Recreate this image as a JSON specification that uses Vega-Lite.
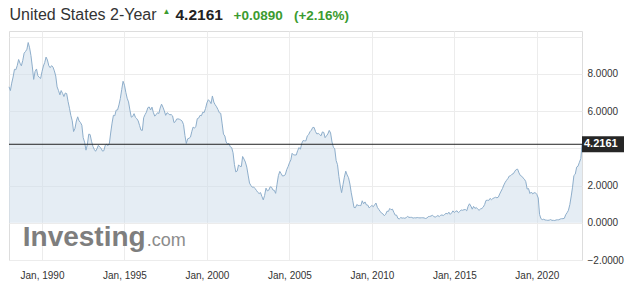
{
"$schema": "https://vega.github.io/schema/vega-lite/v6.json",
"width": 573, "height": 229,
"autosize": {"type": "none"},
"padding": {"left": 9, "top": 31, "right": 54, "bottom": 33},
"background": "white",
"config": {"view": {"stroke": "#dddddd"}, "font": "Liberation Sans", "axis": {"labelOverlap": false}},
"datasets": {
"last": [{"date": "2022-09-27", "yield": 4.2161}],
"logo": [{"word": "Investing", "suffix": ".com"}],
"series": [
{"date":"1988-01-01","yield":7.30},{"date":"1988-02-01","yield":7.10},{"date":"1988-03-01","yield":7.50},{"date":"1988-04-01","yield":7.83},{"date":"1988-05-01","yield":8.24},{"date":"1988-06-01","yield":8.22},{"date":"1988-07-01","yield":8.44},{"date":"1988-08-01","yield":8.77},{"date":"1988-09-01","yield":8.57},{"date":"1988-10-01","yield":8.43},{"date":"1988-11-01","yield":8.72},{"date":"1988-12-01","yield":9.11},
{"date":"1989-01-01","yield":9.20},{"date":"1989-02-01","yield":9.32},{"date":"1989-03-01","yield":9.68},{"date":"1989-04-01","yield":9.40},{"date":"1989-05-01","yield":8.98},{"date":"1989-06-01","yield":8.37},{"date":"1989-07-01","yield":7.70},{"date":"1989-08-01","yield":8.13},{"date":"1989-09-01","yield":8.26},{"date":"1989-10-01","yield":7.90},{"date":"1989-11-01","yield":7.81},{"date":"1989-12-01","yield":7.75},
{"date":"1990-01-01","yield":8.12},{"date":"1990-02-01","yield":8.42},{"date":"1990-03-01","yield":8.60},{"date":"1990-04-01","yield":8.90},{"date":"1990-05-01","yield":8.74},{"date":"1990-06-01","yield":8.43},{"date":"1990-07-01","yield":8.33},{"date":"1990-08-01","yield":8.44},{"date":"1990-09-01","yield":8.36},{"date":"1990-10-01","yield":8.16},{"date":"1990-11-01","yield":7.88},{"date":"1990-12-01","yield":7.30},
{"date":"1991-01-01","yield":7.10},{"date":"1991-02-01","yield":6.87},{"date":"1991-03-01","yield":7.10},{"date":"1991-04-01","yield":6.95},{"date":"1991-05-01","yield":6.78},{"date":"1991-06-01","yield":6.97},{"date":"1991-07-01","yield":6.94},{"date":"1991-08-01","yield":6.51},{"date":"1991-09-01","yield":6.15},{"date":"1991-10-01","yield":5.77},{"date":"1991-11-01","yield":5.48},{"date":"1991-12-01","yield":4.90},
{"date":"1992-01-01","yield":5.07},{"date":"1992-02-01","yield":5.47},{"date":"1992-03-01","yield":5.69},{"date":"1992-04-01","yield":5.47},{"date":"1992-05-01","yield":5.39},{"date":"1992-06-01","yield":5.24},{"date":"1992-07-01","yield":4.57},{"date":"1992-08-01","yield":4.33},{"date":"1992-09-01","yield":3.90},{"date":"1992-10-01","yield":4.20},{"date":"1992-11-01","yield":4.76},{"date":"1992-12-01","yield":4.74},
{"date":"1993-01-01","yield":4.38},{"date":"1993-02-01","yield":4.10},{"date":"1993-03-01","yield":3.95},{"date":"1993-04-01","yield":3.84},{"date":"1993-05-01","yield":3.97},{"date":"1993-06-01","yield":4.16},{"date":"1993-07-01","yield":4.07},{"date":"1993-08-01","yield":4.00},{"date":"1993-09-01","yield":3.85},{"date":"1993-10-01","yield":3.87},{"date":"1993-11-01","yield":4.16},{"date":"1993-12-01","yield":4.21},
{"date":"1994-01-01","yield":4.14},{"date":"1994-02-01","yield":4.27},{"date":"1994-03-01","yield":4.82},{"date":"1994-04-01","yield":5.35},{"date":"1994-05-01","yield":5.77},{"date":"1994-06-01","yield":5.75},{"date":"1994-07-01","yield":6.05},{"date":"1994-08-01","yield":6.06},{"date":"1994-09-01","yield":6.33},{"date":"1994-10-01","yield":6.67},{"date":"1994-11-01","yield":7.16},{"date":"1994-12-01","yield":7.60},
{"date":"1995-01-01","yield":7.39},{"date":"1995-02-01","yield":6.99},{"date":"1995-03-01","yield":6.69},{"date":"1995-04-01","yield":6.49},{"date":"1995-05-01","yield":6.06},{"date":"1995-06-01","yield":5.67},{"date":"1995-07-01","yield":5.71},{"date":"1995-08-01","yield":5.86},{"date":"1995-09-01","yield":5.66},{"date":"1995-10-01","yield":5.59},{"date":"1995-11-01","yield":5.47},{"date":"1995-12-01","yield":5.23},
{"date":"1996-01-01","yield":4.98},{"date":"1996-02-01","yield":4.96},{"date":"1996-03-01","yield":5.64},{"date":"1996-04-01","yield":5.81},{"date":"1996-05-01","yield":5.94},{"date":"1996-06-01","yield":6.18},{"date":"1996-07-01","yield":6.22},{"date":"1996-08-01","yield":6.06},{"date":"1996-09-01","yield":6.21},{"date":"1996-10-01","yield":5.93},{"date":"1996-11-01","yield":5.73},{"date":"1996-12-01","yield":5.80},
{"date":"1997-01-01","yield":5.91},{"date":"1997-02-01","yield":5.87},{"date":"1997-03-01","yield":6.16},{"date":"1997-04-01","yield":6.37},{"date":"1997-05-01","yield":6.21},{"date":"1997-06-01","yield":6.01},{"date":"1997-07-01","yield":5.77},{"date":"1997-08-01","yield":5.91},{"date":"1997-09-01","yield":5.86},{"date":"1997-10-01","yield":5.80},{"date":"1997-11-01","yield":5.81},{"date":"1997-12-01","yield":5.74},
{"date":"1998-01-01","yield":5.38},{"date":"1998-02-01","yield":5.43},{"date":"1998-03-01","yield":5.57},{"date":"1998-04-01","yield":5.58},{"date":"1998-05-01","yield":5.56},{"date":"1998-06-01","yield":5.52},{"date":"1998-07-01","yield":5.46},{"date":"1998-08-01","yield":5.27},{"date":"1998-09-01","yield":4.68},{"date":"1998-10-01","yield":4.26},{"date":"1998-11-01","yield":4.51},{"date":"1998-12-01","yield":4.54},
{"date":"1999-01-01","yield":4.60},{"date":"1999-02-01","yield":4.91},{"date":"1999-03-01","yield":5.14},{"date":"1999-04-01","yield":5.08},{"date":"1999-05-01","yield":5.18},{"date":"1999-06-01","yield":5.59},{"date":"1999-07-01","yield":5.62},{"date":"1999-08-01","yield":5.77},{"date":"1999-09-01","yield":5.75},{"date":"1999-10-01","yield":5.94},{"date":"1999-11-01","yield":5.92},{"date":"1999-12-01","yield":6.14},
{"date":"2000-01-01","yield":6.44},{"date":"2000-02-01","yield":6.61},{"date":"2000-03-01","yield":6.53},{"date":"2000-04-01","yield":6.40},{"date":"2000-05-01","yield":6.81},{"date":"2000-06-01","yield":6.48},{"date":"2000-07-01","yield":6.34},{"date":"2000-08-01","yield":6.23},{"date":"2000-09-01","yield":6.08},{"date":"2000-10-01","yield":5.91},{"date":"2000-11-01","yield":5.88},{"date":"2000-12-01","yield":5.35},
{"date":"2001-01-01","yield":4.76},{"date":"2001-02-01","yield":4.66},{"date":"2001-03-01","yield":4.34},{"date":"2001-04-01","yield":4.23},{"date":"2001-05-01","yield":4.26},{"date":"2001-06-01","yield":4.08},{"date":"2001-07-01","yield":4.04},{"date":"2001-08-01","yield":3.76},{"date":"2001-09-01","yield":3.12},{"date":"2001-10-01","yield":2.73},{"date":"2001-11-01","yield":2.78},{"date":"2001-12-01","yield":3.11},
{"date":"2002-01-01","yield":3.03},{"date":"2002-02-01","yield":3.02},{"date":"2002-03-01","yield":3.56},{"date":"2002-04-01","yield":3.42},{"date":"2002-05-01","yield":3.26},{"date":"2002-06-01","yield":2.99},{"date":"2002-07-01","yield":2.56},{"date":"2002-08-01","yield":2.13},{"date":"2002-09-01","yield":2.00},{"date":"2002-10-01","yield":1.91},{"date":"2002-11-01","yield":1.92},{"date":"2002-12-01","yield":1.84},
{"date":"2003-01-01","yield":1.74},{"date":"2003-02-01","yield":1.63},{"date":"2003-03-01","yield":1.57},{"date":"2003-04-01","yield":1.62},{"date":"2003-05-01","yield":1.42},{"date":"2003-06-01","yield":1.23},{"date":"2003-07-01","yield":1.47},{"date":"2003-08-01","yield":1.86},{"date":"2003-09-01","yield":1.71},{"date":"2003-10-01","yield":1.75},{"date":"2003-11-01","yield":1.93},{"date":"2003-12-01","yield":1.91},
{"date":"2004-01-01","yield":1.76},{"date":"2004-02-01","yield":1.74},{"date":"2004-03-01","yield":1.58},{"date":"2004-04-01","yield":2.07},{"date":"2004-05-01","yield":2.53},{"date":"2004-06-01","yield":2.76},{"date":"2004-07-01","yield":2.64},{"date":"2004-08-01","yield":2.51},{"date":"2004-09-01","yield":2.53},{"date":"2004-10-01","yield":2.58},{"date":"2004-11-01","yield":2.85},{"date":"2004-12-01","yield":3.01},
{"date":"2005-01-01","yield":3.22},{"date":"2005-02-01","yield":3.38},{"date":"2005-03-01","yield":3.73},{"date":"2005-04-01","yield":3.65},{"date":"2005-05-01","yield":3.64},{"date":"2005-06-01","yield":3.64},{"date":"2005-07-01","yield":3.87},{"date":"2005-08-01","yield":4.04},{"date":"2005-09-01","yield":3.95},{"date":"2005-10-01","yield":4.27},{"date":"2005-11-01","yield":4.42},{"date":"2005-12-01","yield":4.40},
{"date":"2006-01-01","yield":4.40},{"date":"2006-02-01","yield":4.67},{"date":"2006-03-01","yield":4.73},{"date":"2006-04-01","yield":4.89},{"date":"2006-05-01","yield":4.97},{"date":"2006-06-01","yield":5.12},{"date":"2006-07-01","yield":5.12},{"date":"2006-08-01","yield":4.90},{"date":"2006-09-01","yield":4.77},{"date":"2006-10-01","yield":4.80},{"date":"2006-11-01","yield":4.74},{"date":"2006-12-01","yield":4.67},
{"date":"2007-01-01","yield":4.88},{"date":"2007-02-01","yield":4.85},{"date":"2007-03-01","yield":4.57},{"date":"2007-04-01","yield":4.67},{"date":"2007-05-01","yield":4.77},{"date":"2007-06-01","yield":4.96},{"date":"2007-07-01","yield":4.82},{"date":"2007-08-01","yield":4.34},{"date":"2007-09-01","yield":4.06},{"date":"2007-10-01","yield":3.97},{"date":"2007-11-01","yield":3.34},{"date":"2007-12-01","yield":3.12},
{"date":"2008-01-01","yield":2.48},{"date":"2008-02-01","yield":1.97},{"date":"2008-03-01","yield":1.62},{"date":"2008-04-01","yield":2.05},{"date":"2008-05-01","yield":2.45},{"date":"2008-06-01","yield":2.77},{"date":"2008-07-01","yield":2.57},{"date":"2008-08-01","yield":2.42},{"date":"2008-09-01","yield":2.08},{"date":"2008-10-01","yield":1.61},{"date":"2008-11-01","yield":1.21},{"date":"2008-12-01","yield":0.82},
{"date":"2009-01-01","yield":0.81},{"date":"2009-02-01","yield":0.98},{"date":"2009-03-01","yield":0.93},{"date":"2009-04-01","yield":0.93},{"date":"2009-05-01","yield":0.92},{"date":"2009-06-01","yield":1.18},{"date":"2009-07-01","yield":1.02},{"date":"2009-08-01","yield":1.12},{"date":"2009-09-01","yield":0.96},{"date":"2009-10-01","yield":0.95},{"date":"2009-11-01","yield":0.80},{"date":"2009-12-01","yield":0.87},
{"date":"2010-01-01","yield":0.93},{"date":"2010-02-01","yield":0.86},{"date":"2010-03-01","yield":0.96},{"date":"2010-04-01","yield":1.06},{"date":"2010-05-01","yield":0.83},{"date":"2010-06-01","yield":0.72},{"date":"2010-07-01","yield":0.62},{"date":"2010-08-01","yield":0.52},{"date":"2010-09-01","yield":0.48},{"date":"2010-10-01","yield":0.38},{"date":"2010-11-01","yield":0.45},{"date":"2010-12-01","yield":0.62},
{"date":"2011-01-01","yield":0.61},{"date":"2011-02-01","yield":0.77},{"date":"2011-03-01","yield":0.70},{"date":"2011-04-01","yield":0.73},{"date":"2011-05-01","yield":0.56},{"date":"2011-06-01","yield":0.41},{"date":"2011-07-01","yield":0.41},{"date":"2011-08-01","yield":0.23},{"date":"2011-09-01","yield":0.21},{"date":"2011-10-01","yield":0.28},{"date":"2011-11-01","yield":0.25},{"date":"2011-12-01","yield":0.26},
{"date":"2012-01-01","yield":0.24},{"date":"2012-02-01","yield":0.28},{"date":"2012-03-01","yield":0.34},{"date":"2012-04-01","yield":0.29},{"date":"2012-05-01","yield":0.29},{"date":"2012-06-01","yield":0.29},{"date":"2012-07-01","yield":0.25},{"date":"2012-08-01","yield":0.27},{"date":"2012-09-01","yield":0.26},{"date":"2012-10-01","yield":0.28},{"date":"2012-11-01","yield":0.27},{"date":"2012-12-01","yield":0.26},
{"date":"2013-01-01","yield":0.27},{"date":"2013-02-01","yield":0.27},{"date":"2013-03-01","yield":0.26},{"date":"2013-04-01","yield":0.23},{"date":"2013-05-01","yield":0.25},{"date":"2013-06-01","yield":0.33},{"date":"2013-07-01","yield":0.34},{"date":"2013-08-01","yield":0.36},{"date":"2013-09-01","yield":0.40},{"date":"2013-10-01","yield":0.34},{"date":"2013-11-01","yield":0.30},{"date":"2013-12-01","yield":0.34},
{"date":"2014-01-01","yield":0.39},{"date":"2014-02-01","yield":0.33},{"date":"2014-03-01","yield":0.40},{"date":"2014-04-01","yield":0.42},{"date":"2014-05-01","yield":0.39},{"date":"2014-06-01","yield":0.45},{"date":"2014-07-01","yield":0.51},{"date":"2014-08-01","yield":0.47},{"date":"2014-09-01","yield":0.57},{"date":"2014-10-01","yield":0.45},{"date":"2014-11-01","yield":0.53},{"date":"2014-12-01","yield":0.64},
{"date":"2015-01-01","yield":0.55},{"date":"2015-02-01","yield":0.62},{"date":"2015-03-01","yield":0.64},{"date":"2015-04-01","yield":0.54},{"date":"2015-05-01","yield":0.61},{"date":"2015-06-01","yield":0.69},{"date":"2015-07-01","yield":0.67},{"date":"2015-08-01","yield":0.70},{"date":"2015-09-01","yield":0.71},{"date":"2015-10-01","yield":0.64},{"date":"2015-11-01","yield":0.88},{"date":"2015-12-01","yield":1.02},
{"date":"2016-01-01","yield":0.90},{"date":"2016-02-01","yield":0.73},{"date":"2016-03-01","yield":0.88},{"date":"2016-04-01","yield":0.77},{"date":"2016-05-01","yield":0.82},{"date":"2016-06-01","yield":0.73},{"date":"2016-07-01","yield":0.67},{"date":"2016-08-01","yield":0.74},{"date":"2016-09-01","yield":0.77},{"date":"2016-10-01","yield":0.84},{"date":"2016-11-01","yield":0.98},{"date":"2016-12-01","yield":1.20},
{"date":"2017-01-01","yield":1.21},{"date":"2017-02-01","yield":1.20},{"date":"2017-03-01","yield":1.31},{"date":"2017-04-01","yield":1.24},{"date":"2017-05-01","yield":1.30},{"date":"2017-06-01","yield":1.34},{"date":"2017-07-01","yield":1.37},{"date":"2017-08-01","yield":1.34},{"date":"2017-09-01","yield":1.38},{"date":"2017-10-01","yield":1.55},{"date":"2017-11-01","yield":1.70},{"date":"2017-12-01","yield":1.84},
{"date":"2018-01-01","yield":2.03},{"date":"2018-02-01","yield":2.18},{"date":"2018-03-01","yield":2.28},{"date":"2018-04-01","yield":2.38},{"date":"2018-05-01","yield":2.51},{"date":"2018-06-01","yield":2.53},{"date":"2018-07-01","yield":2.61},{"date":"2018-08-01","yield":2.64},{"date":"2018-09-01","yield":2.77},{"date":"2018-10-01","yield":2.86},{"date":"2018-11-01","yield":2.88},{"date":"2018-12-01","yield":2.68},
{"date":"2019-01-01","yield":2.54},{"date":"2019-02-01","yield":2.50},{"date":"2019-03-01","yield":2.41},{"date":"2019-04-01","yield":2.34},{"date":"2019-05-01","yield":2.21},{"date":"2019-06-01","yield":1.81},{"date":"2019-07-01","yield":1.84},{"date":"2019-08-01","yield":1.57},{"date":"2019-09-01","yield":1.65},{"date":"2019-10-01","yield":1.55},{"date":"2019-11-01","yield":1.61},{"date":"2019-12-01","yield":1.61},
{"date":"2020-01-01","yield":1.52},{"date":"2020-02-01","yield":1.33},{"date":"2020-03-01","yield":0.45},{"date":"2020-04-01","yield":0.22},{"date":"2020-05-01","yield":0.17},{"date":"2020-06-01","yield":0.19},{"date":"2020-07-01","yield":0.15},{"date":"2020-08-01","yield":0.14},{"date":"2020-09-01","yield":0.13},{"date":"2020-10-01","yield":0.14},{"date":"2020-11-01","yield":0.17},{"date":"2020-12-01","yield":0.13},
{"date":"2021-01-01","yield":0.13},{"date":"2021-02-01","yield":0.12},{"date":"2021-03-01","yield":0.15},{"date":"2021-04-01","yield":0.16},{"date":"2021-05-01","yield":0.16},{"date":"2021-06-01","yield":0.20},{"date":"2021-07-01","yield":0.22},{"date":"2021-08-01","yield":0.22},{"date":"2021-09-01","yield":0.24},{"date":"2021-10-01","yield":0.43},{"date":"2021-11-01","yield":0.54},{"date":"2021-12-01","yield":0.67},
{"date":"2022-01-01","yield":0.98},{"date":"2022-02-01","yield":1.44},{"date":"2022-03-01","yield":1.91},{"date":"2022-04-01","yield":2.54},{"date":"2022-05-01","yield":2.61},{"date":"2022-06-01","yield":2.99},{"date":"2022-07-01","yield":3.04},{"date":"2022-08-01","yield":3.25},{"date":"2022-09-01","yield":3.45},{"date":"2022-09-27","yield":4.2161}
]
},
"layer": [
{
"data": {"name": "series"},
"mark": {"type": "area", "color": "#cfdfeb", "fillOpacity": 0.55, "line": {"color": "#8eaecb", "strokeWidth": 1}},
"encoding": {
"x": {"field": "date", "type": "temporal",
"scale": {"type": "utc", "domain": [{"year": 1988, "month": 1, "date": 1, "utc": true}, {"year": 2022, "month": 9, "date": 27, "utc": true}]},
"axis": {"orient": "bottom", "values": [{"year": 1990, "month": 1, "date": 1, "utc": true}, {"year": 1995, "month": 1, "date": 1, "utc": true}, {"year": 2000, "month": 1, "date": 1, "utc": true}, {"year": 2005, "month": 1, "date": 1, "utc": true}, {"year": 2010, "month": 1, "date": 1, "utc": true}, {"year": 2015, "month": 1, "date": 1, "utc": true}, {"year": 2020, "month": 1, "date": 1, "utc": true}],
"tickCount": 40, "labelExpr": "utcFormat(datum.value, '%b, %Y')", "grid": true, "gridColor": "#ececec", "ticks": false, "domain": false, "labelPadding": 10, "labelFontSize": 10, "labelColor": "#333333", "labelFont": "Liberation Sans", "labelFlush": false, "labelOverlap": false,
"title": "+0.0890\u00a0\u00a0\u00a0(+2.16%)", "titleColor": "#3b9b2f", "titleFontSize": 13.5, "titleFontWeight": "bold", "titleFont": "Liberation Sans", "titleX": 224, "titleY": -241, "titleAlign": "left", "titleBaseline": "alphabetic"}},
"y": {"field": "yield", "type": "quantitative",
"scale": {"domain": [-2, 10.3], "nice": false, "zero": false},
"axis": {"orient": "right", "values": [-2, 0, 2, 4, 6, 8, 10], "tickCount": 40, "labelExpr": "datum.value == 4 || datum.value == 10 ? '' : format(datum.value, '.4f')", "grid": true, "gridColor": "#ececec", "ticks": false, "domain": false, "labelPadding": 5, "labelAlign": "left", "labelBaseline": "middle", "labelFontSize": 10, "labelColor": "#333333", "labelFont": "Liberation Sans", "labelFlush": false, "labelOverlap": false,
"title": "4.2161", "titleAngle": 0, "titleX": -407, "titleY": -12, "titleAlign": "left", "titleBaseline": "alphabetic", "titleFontSize": 15.5, "titleFontWeight": "bold", "titleColor": "#222222", "titleFont": "Liberation Sans"}},
"y2": {"datum": 0}
}
},
{
"data": {"name": "last"},
"mark": {"type": "rule", "color": "#222222", "strokeWidth": 1},
"encoding": {"y": {"field": "yield", "type": "quantitative"}}
},
{
"data": {"name": "last"},
"mark": {"type": "point", "shape": "M0,-0.4H2.1V0.4H0Z", "size": 1600, "filled": true, "color": "#262626", "opacity": 1, "strokeWidth": 0},
"encoding": {
"x": {"field": "date", "type": "temporal",
"axis": {"orient": "top", "labels": false, "ticks": false, "domain": false, "grid": false, "title": "▲", "titleColor": "#3b9b2f", "titleFontSize": 8, "titleX": 153, "titleY": -20, "titleAlign": "left", "titleBaseline": "middle"}},
"y": {"field": "yield", "type": "quantitative"}
}
},
{
"data": {"name": "last"},
"mark": {"type": "text", "align": "left", "baseline": "middle", "dx": 2, "color": "white", "fontSize": 11, "fontWeight": "bold", "font": "Liberation Sans"},
"encoding": {
"x": {"field": "date", "type": "temporal",
"axis": {"orient": "top", "labels": false, "ticks": false, "domain": false, "grid": false, "title": "United States 2-Year", "titleColor": "#333333", "titleFontSize": 16, "titleFontWeight": "normal", "titleFont": "Liberation Sans", "titleX": 0, "titleY": -12, "titleAlign": "left", "titleBaseline": "alphabetic"}},
"y": {"field": "yield", "type": "quantitative"},
"text": {"field": "yield", "type": "quantitative", "format": ".4f"}
}
},
{
"data": {"name": "logo"},
"mark": {"type": "text", "align": "left", "baseline": "alphabetic", "color": "#7e7e7e", "fontSize": 28, "fontWeight": "bold", "font": "Liberation Sans"},
"encoding": {
"x": {"datum": {"year": 1988, "month": 11, "date": 1, "utc": true}, "type": "temporal", "axis": null},
"y": {"datum": -1.25},
"text": {"field": "word"}
}
},
{
"data": {"name": "logo"},
"mark": {"type": "text", "align": "left", "baseline": "alphabetic", "dx": 124, "color": "#8c8c8c", "fontSize": 18, "font": "Liberation Sans"},
"encoding": {
"x": {"datum": {"year": 1988, "month": 11, "date": 1, "utc": true}, "type": "temporal", "axis": null},
"y": {"datum": -1.25},
"text": {"field": "suffix"}
}
}
],
"resolve": {"axis": {"x": "independent"}}
}
